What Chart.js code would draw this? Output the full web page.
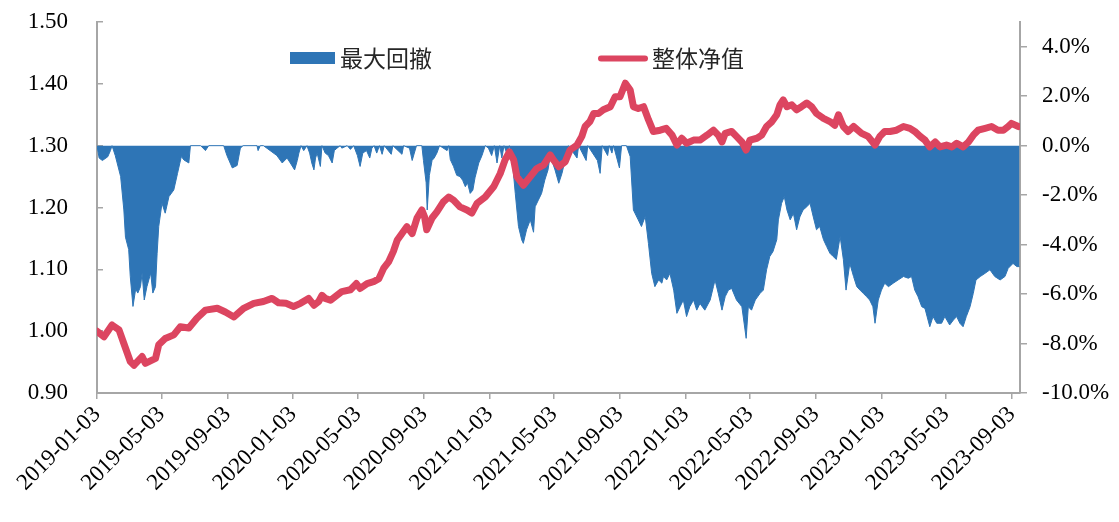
<!DOCTYPE html>
<html>
<head>
<meta charset="utf-8">
<script src="https://cdn.jsdelivr.net/npm/chart.js@4.4.0/dist/chart.umd.min.js"></script>
<style>
  html, body { margin: 0; padding: 0; background: #ffffff; }
  #wrap { width: 1119px; height: 522px; }
</style>
</head>
<body>
<div id="wrap"><canvas id="navChart" width="1119" height="522"></canvas></div>
<script>
// -----------------------------------------
// Data (x = calendar days since START_DATE)
// -----------------------------------------
const START_DATE = "2019-01-03";

const tickLabels = [
    "2019-01-03", "2019-05-03", "2019-09-03", "2020-01-03", "2020-05-03",
    "2020-09-03", "2021-01-03", "2021-05-03", "2021-09-03", "2022-01-03",
    "2022-05-03", "2022-09-03", "2023-01-03", "2023-05-03", "2023-09-03",
];

// 整体净值 (left axis)
const navDays = [
    0, 13, 28, 41, 50, 62, 69, 84, 90, 109, 115, 127, 143, 155, 171, 186, 202,
    224, 239, 255, 273, 292, 310, 326, 338, 352, 366, 379, 394, 404, 413, 419,
    425, 435, 444, 456, 472, 483, 490, 503, 515, 525, 534, 543, 552, 559, 568,
    577, 587, 596, 605, 610, 614, 624, 633, 645, 655, 664, 676, 689, 698, 708,
    723, 739, 751, 760, 768, 776, 782, 794, 807, 819, 832, 844, 850, 860, 872,
    881, 894, 903, 909, 918, 925, 934, 943, 956, 965, 974, 984, 993, 999, 1008,
    1018, 1027, 1036, 1049, 1060, 1071, 1080, 1089, 1098, 1111, 1123, 1136,
    1148, 1157, 1164, 1170, 1182, 1191, 1201, 1209, 1216, 1229, 1238, 1247,
    1257, 1266, 1272, 1278, 1285, 1294, 1303, 1312, 1322, 1331, 1340, 1353,
    1365, 1374, 1381, 1390, 1399, 1409, 1424, 1436, 1449, 1458, 1467, 1477,
    1489, 1502, 1514, 1523, 1533, 1542, 1551, 1561, 1570, 1582, 1592, 1601,
    1613, 1623, 1632, 1641, 1654, 1666, 1678, 1688, 1697, 1703, 1716,
];
const navValues = [
    1.000, 0.991, 1.010, 1.002, 0.980, 0.951, 0.945, 0.959, 0.948, 0.956, 0.978,
    0.988, 0.994, 1.007, 1.005, 1.021, 1.034, 1.037, 1.031, 1.023, 1.037, 1.045,
    1.048, 1.053, 1.046, 1.045, 1.040, 1.045, 1.053, 1.042, 1.048, 1.058, 1.053,
    1.050, 1.056, 1.064, 1.067, 1.077, 1.069, 1.077, 1.080, 1.085, 1.102, 1.112,
    1.129, 1.147, 1.158, 1.169, 1.158, 1.183, 1.196, 1.185, 1.164, 1.183, 1.193,
    1.209, 1.217, 1.212, 1.201, 1.196, 1.191, 1.207, 1.217, 1.234, 1.255, 1.277,
    1.290, 1.277, 1.250, 1.236, 1.250, 1.263, 1.269, 1.285, 1.277, 1.266, 1.274,
    1.293, 1.301, 1.315, 1.331, 1.339, 1.352, 1.352, 1.358, 1.363, 1.379, 1.379,
    1.401, 1.390, 1.363, 1.360, 1.363, 1.342, 1.323, 1.325, 1.328, 1.317, 1.301,
    1.312, 1.304, 1.309, 1.309, 1.317, 1.325, 1.317, 1.306, 1.320, 1.323, 1.315,
    1.306, 1.293, 1.309, 1.312, 1.317, 1.331, 1.339, 1.350, 1.366, 1.374, 1.363,
    1.366, 1.358, 1.363, 1.369, 1.363, 1.352, 1.344, 1.339, 1.333, 1.350, 1.331,
    1.323, 1.331, 1.320, 1.315, 1.301, 1.315, 1.323, 1.323, 1.325, 1.331, 1.328,
    1.323, 1.315, 1.309, 1.298, 1.306, 1.298, 1.301, 1.298, 1.304, 1.298, 1.306,
    1.317, 1.325, 1.328, 1.331, 1.325, 1.325, 1.331, 1.336, 1.331,
];

// 最大回撤 in % (right axis)
const ddDays = [
    0, 4, 10, 20, 25, 28, 34, 44, 50, 53, 59, 62, 67, 72, 76, 81, 84, 88, 93,
    100, 104, 109, 112, 115, 121, 127, 134, 143, 150, 157, 162, 171, 174, 193,
    202, 208, 236, 242, 252, 261, 267, 272, 298, 300, 304, 310, 335, 345, 354,
    360, 368, 373, 376, 380, 385, 391, 396, 400, 404, 407, 410, 416, 419, 425,
    431, 438, 442, 447, 453, 456, 466, 472, 478, 485, 490, 495, 502, 508, 512,
    516, 521, 526, 531, 535, 548, 551, 568, 571, 582, 587, 591, 595, 605, 608,
    613, 615, 619, 624, 628, 633, 638, 652, 655, 658, 664, 670, 676, 681, 686,
    690, 695, 700, 704, 711, 717, 723, 729, 735, 740, 745, 750, 754, 758, 763,
    768, 773, 779, 785, 791, 794, 800, 807, 813, 816, 822, 828, 834, 840, 844,
    853, 860, 866, 872, 878, 894, 897, 911, 914, 932, 937, 941, 951, 954, 959,
    962, 973, 977, 986, 993, 999, 1008, 1014, 1021, 1027, 1033, 1039, 1046,
    1052, 1055, 1061, 1067, 1074, 1080, 1086, 1092, 1098, 1104, 1111, 1117,
    1123, 1132, 1142, 1148, 1151, 1157, 1164, 1170, 1176, 1182, 1191, 1201,
    1209, 1213, 1219, 1226, 1235, 1241, 1247, 1253, 1259, 1266, 1269, 1275,
    1280, 1285, 1291, 1297, 1303, 1309, 1315, 1322, 1328, 1334, 1340, 1346,
    1353, 1359, 1365, 1371, 1377, 1384, 1390, 1395, 1402, 1409, 1415, 1421,
    1427, 1433, 1439, 1445, 1449, 1455, 1461, 1467, 1474, 1483, 1492, 1502,
    1511, 1517, 1523, 1529, 1536, 1542, 1551, 1557, 1564, 1573, 1579, 1588,
    1595, 1601, 1607, 1613, 1619, 1626, 1632, 1637, 1645, 1654, 1663, 1672,
    1682, 1691, 1697, 1706, 1713, 1718,
];
const ddValues = [
    0, -0.5, -0.6, -0.45, -0.2, 0, -0.4, -1.25, -2.6, -3.7, -4.2, -5.3, -6.5,
    -5.8, -5.96, -5.7, -5.15, -6.24, -5.7, -5.15, -5.96, -5.7, -4.35, -3.27,
    -2.33, -2.73, -2.06, -1.79, -1.12, -0.44, -0.58, -0.7, 0, 0, -0.2, 0, 0,
    -0.4, -0.9, -0.8, -0.1, 0, 0, -0.2, 0, 0, -0.4, -0.7, -0.5, -0.7, -0.98,
    -0.6, -0.3, 0, -0.2, 0, -0.3, -0.7, -0.98, -0.5, -0.3, -0.84, 0, -0.3, -0.4,
    -0.7, -0.2, -0.1, 0, -0.1, 0, -0.15, 0, -0.4, -0.84, -0.3, -0.2, -0.5, -0.1,
    0, -0.3, 0, -0.35, 0, -0.35, 0, -0.35, 0, -0.1, -0.6, -0.3, 0, 0, -0.6,
    -1.5, -2.6, -1.2, -0.6, -0.5, -0.3, 0, -0.2, 0, -0.56, -0.84, -1.2, -1.25,
    -1.4, -1.66, -1.5, -1.93, -1.8, -1.3, -0.7, -0.4, 0, -0.1, -0.4, 0, -0.7,
    0, -0.5, 0, -0.3, 0, -0.5, -1.93, -3.27, -3.81, -3.95, -3.4, -3.0, -3.5,
    -2.47, -2.2, -1.93, -1.39, -0.98, -0.4, -0.98, -1.52, -1.12, -0.56, 0,
    -0.5, 0, -0.6, 0, -0.6, -1.12, 0, -0.4, 0, -0.3, 0, -0.9, 0, 0, -0.44,
    -2.6, -3.0, -3.27, -2.86, -3.95, -5.16, -5.7, -5.43, -5.56, -5.29, -5.43,
    -5.16, -5.84, -6.78, -6.51, -6.24, -6.91, -6.51, -6.24, -6.65, -6.38,
    -6.65, -6.24, -5.7, -5.43, -5.97, -6.65, -6.1, -5.84, -5.77, -6.24, -6.51,
    -7.79, -6.51, -6.65, -6.24, -5.97, -5.84, -5.02, -4.48, -4.28, -3.8, -3.0,
    -2.33, -2.06, -2.6, -3.0, -2.74, -3.4, -2.88, -2.6, -2.47, -2.33, -2.88,
    -3.4, -3.27, -3.8, -4.08, -4.35, -4.48, -4.6, -3.67, -4.6, -5.84, -4.76,
    -5.29, -5.7, -5.84, -5.97, -6.1, -6.24, -6.51, -7.18, -6.24, -5.84, -5.56,
    -5.7, -5.56, -5.43, -5.29, -5.36, -5.29, -5.84, -6.1, -6.51, -6.58, -7.32,
    -6.91, -7.18, -7.18, -6.91, -7.25, -7.05, -6.91, -7.18, -7.32, -6.91,
    -6.51, -5.97, -5.43, -5.29, -5.16, -5.02, -5.29, -5.43, -5.29, -4.96,
    -4.76, -4.89, -4.89,
];

const dayOf = (s) =>
    Math.round((Date.parse(s) - Date.parse(START_DATE)) / 86400000);

const AXIS_GREY = "#a6a6a6";
const TICK_FONT = { family: "'Liberation Serif', 'Times New Roman', serif", size: 23 };

// -----------------------------------------
// Legend drawn inside the plot (Excel style)
// -----------------------------------------
const insideLegend = {
    id: "insideLegend",
    afterDraw(chart) {
        const ctx = chart.ctx;
        const dd = chart.data.datasets[0];
        const nav = chart.data.datasets[1];
        ctx.save();
        ctx.font = "23px 'Noto Sans CJK SC'";
        ctx.textBaseline = "middle";
        ctx.textAlign = "left";

        ctx.fillStyle = dd.backgroundColor;
        ctx.fillRect(290, 52, 45, 12);
        ctx.fillStyle = "#262626";
        ctx.fillText(dd.label, 340, 58);

        ctx.strokeStyle = nav.borderColor;
        ctx.lineWidth = 6;
        ctx.lineCap = "round";
        ctx.beginPath();
        ctx.moveTo(601, 58.5);
        ctx.lineTo(645, 58.5);
        ctx.stroke();
        ctx.fillText(nav.label, 652, 58);
        ctx.restore();
    },
};

// vertical axes: fixed width, no extra top/bottom padding from labels
const fixY = (w) => (scale) => {
    scale.width = w;
    scale.paddingTop = 0;
    scale.paddingBottom = 0;
};

new Chart(document.getElementById("navChart"), {
    type: "line",
    data: {
        datasets: [
            {
                label: "最大回撤",
                data: ddDays.map((d, i) => ({ x: d, y: ddValues[i] })),
                yAxisID: "yDD",
                backgroundColor: "#2e75b6",
                borderColor: "#2e75b6",
                borderWidth: 1,
                fill: "origin",
                pointRadius: 0,
                tension: 0,
                order: 2,
            },
            {
                label: "整体净值",
                data: navDays.map((d, i) => ({ x: d, y: navValues[i] })),
                yAxisID: "yNav",
                borderColor: "#dc4560",
                borderWidth: 7,
                borderJoinStyle: "round",
                borderCapStyle: "round",
                fill: false,
                pointRadius: 0,
                tension: 0,
                order: 1,
            },
        ],
    },
    options: {
        responsive: false,
        animation: false,
        layout: { padding: { top: 22, left: 0, right: 0, bottom: 0 } },
        plugins: {
            legend: { display: false },
            tooltip: { enabled: false },
        },
        scales: {
            x: {
                type: "linear",
                min: 0,
                max: 1719,
                afterBuildTicks: (scale) => {
                    scale.ticks = tickLabels.map((s) => ({ value: dayOf(s) }));
                },
                afterFit: (scale) => {
                    scale.height = 129;
                },
                ticks: {
                    autoSkip: false,
                    minRotation: 45,
                    maxRotation: 45,
                    padding: 2,
                    color: "#000000",
                    font: TICK_FONT,
                    callback: (value, index) => tickLabels[index],
                },
                grid: {
                    drawOnChartArea: false,
                    drawTicks: true,
                    tickLength: 6,
                    color: AXIS_GREY,
                    lineWidth: 1.5,
                },
                border: { display: true, color: AXIS_GREY, width: 2 },
            },
            yNav: {
                position: "left",
                min: 0.9,
                max: 1.5,
                afterFit: fixY(97),
                ticks: {
                    stepSize: 0.1,
                    padding: 35,
                    color: "#000000",
                    font: TICK_FONT,
                    callback: (v) => v.toFixed(2),
                },
                grid: {
                    drawOnChartArea: false,
                    drawTicks: true,
                    tickLength: -6,
                    color: AXIS_GREY,
                    lineWidth: 1.5,
                },
                border: { display: true, color: AXIS_GREY, width: 2 },
            },
            yDD: {
                position: "right",
                min: -10,
                max: 5,
                afterFit: fixY(99),
                ticks: {
                    stepSize: 1,
                    padding: 15,
                    color: "#000000",
                    font: TICK_FONT,
                    callback: (v) =>
                        v % 2 === 0 && v <= 4 ? v.toFixed(1) + "%" : "",
                },
                grid: {
                    drawOnChartArea: false,
                    drawTicks: true,
                    tickLength: 7,
                    color: AXIS_GREY,
                    lineWidth: 1.5,
                },
                border: { display: true, color: AXIS_GREY, width: 2 },
            },
        },
    },
    plugins: [insideLegend],
});
</script>
</body>
</html>
